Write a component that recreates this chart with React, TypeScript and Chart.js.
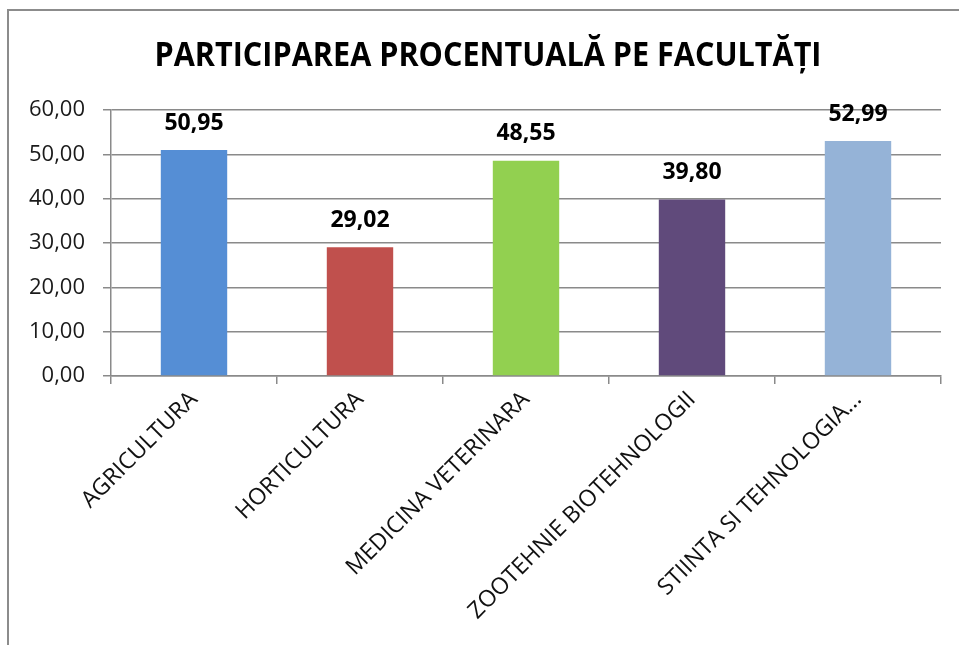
import React, { useEffect, useRef } from "react";
import { Chart, registerables } from "chart.js";

Chart.register(...registerables);

const chartTitle = "PARTICIPAREA PROCENTUALĂ PE FACULTĂȚI";
const categories = [
  "AGRICULTURA",
  "HORTICULTURA",
  "MEDICINA VETERINARA",
  "ZOOTEHNIE BIOTEHNOLOGII",
  "STIINTA SI TEHNOLOGIA...",
];
const values = [50.95, 29.02, 48.55, 39.8, 52.99];
const barColors = ["#558ED5", "#C0504D", "#92D050", "#604A7B", "#95B3D7"];
const yTicks = [0, 10, 20, 30, 40, 50, 60];

const fmt = (v: number) => v.toFixed(2).replace(".", ",");

const FONT = '"Open Sans", "Noto Sans", sans-serif';
const GRID = "#8a8a8a";

const framePlugin = {
  id: "frame",
  beforeDraw(chart: any) {
    const ctx = chart.ctx;
    ctx.save();
    ctx.fillStyle = "#ffffff";
    ctx.fillRect(0, 0, chart.width, chart.height);
    ctx.fillStyle = "#8c8c8c";
    ctx.fillRect(7, 9, 2, chart.height);
    ctx.fillRect(7, 9, chart.width, 2);
    ctx.restore();
  },
  afterDraw(chart: any) {
    const ctx = chart.ctx;
    ctx.save();
    ctx.fillStyle = "#000";
    ctx.textAlign = "center";
    ctx.textBaseline = "middle";
    ctx.font = `bold 100px ${FONT}`;
    const w = ctx.measureText(chartTitle).width;
    const size = Math.min(40, (667 / w) * 100);
    ctx.font = `bold ${size.toFixed(1)}px ${FONT}`;
    ctx.translate(488, 56);
    ctx.scale(1, 1.12);
    ctx.fillText(chartTitle, 0, 0);
    ctx.restore();
  },
};

const valueLabelPlugin = {
  id: "valueLabels",
  afterDatasetsDraw(chart: any) {
    const ctx = chart.ctx;
    const meta = chart.getDatasetMeta(0);
    ctx.save();
    ctx.fillStyle = "#000";
    ctx.textAlign = "center";
    ctx.textBaseline = "middle";
    ctx.font = `bold 23px ${FONT}`;
    meta.data.forEach((bar: any, i: number) => {
      ctx.fillText(fmt(values[i]), bar.x, bar.y - 27);
    });
    ctx.restore();
  },
};

export default function App() {
  const ref = useRef<HTMLCanvasElement | null>(null);

  useEffect(() => {
    document.body.style.margin = "0";
    const canvas = ref.current!;
    const chart = new Chart(canvas, {
      type: "bar",
      data: {
        labels: categories,
        datasets: [
          {
            data: values,
            backgroundColor: barColors,
            borderWidth: 0,
            categoryPercentage: 1,
            barPercentage: 0.4,
          },
        ],
      },
      options: {
        animation: false,
        responsive: false,
        devicePixelRatio: 1,
        layout: { padding: { top: 110, right: 18, left: 0, bottom: 0 } },
        plugins: {
          legend: { display: false },
          title: { display: false },
          tooltip: { enabled: false },
        },
        scales: {
          x: {
            afterFit(scale: any) {
              scale.height = 645 - 376;
            },
            grid: {
              display: true,
              drawOnChartArea: false,
              drawTicks: true,
              tickLength: 8,
              color: GRID,
              lineWidth: 1.5,
              offset: true,
            },
            border: { display: true, color: GRID, width: 1.5 },
            ticks: {
              maxRotation: 45,
              minRotation: 45,
              autoSkip: false,
              padding: 2,
              color: "#111",
              font: { family: FONT, size: 23 },
            },
          },
          y: {
            min: 0,
            max: 60,
            afterFit(scale: any) {
              scale.width = 111;
            },
            afterBuildTicks(scale: any) {
              scale.ticks = yTicks.map((v) => ({ value: v }));
            },
            grid: {
              color: GRID,
              lineWidth: 1.5,
              tickLength: 8,
              drawTicks: true,
            },
            border: { display: true, color: GRID, width: 1.5 },
            ticks: {
              padding: 18,
              color: "#1a1a1a",
              font: { family: FONT, size: 22 },
              callback: (v: any) => fmt(Number(v)),
            },
          },
        },
      },
      plugins: [framePlugin, valueLabelPlugin],
    });
    return () => chart.destroy();
  }, []);

  return (
    <canvas
      ref={ref}
      width={959}
      height={645}
      style={{ display: "block", width: 959, height: 645 }}
    />
  );
}
